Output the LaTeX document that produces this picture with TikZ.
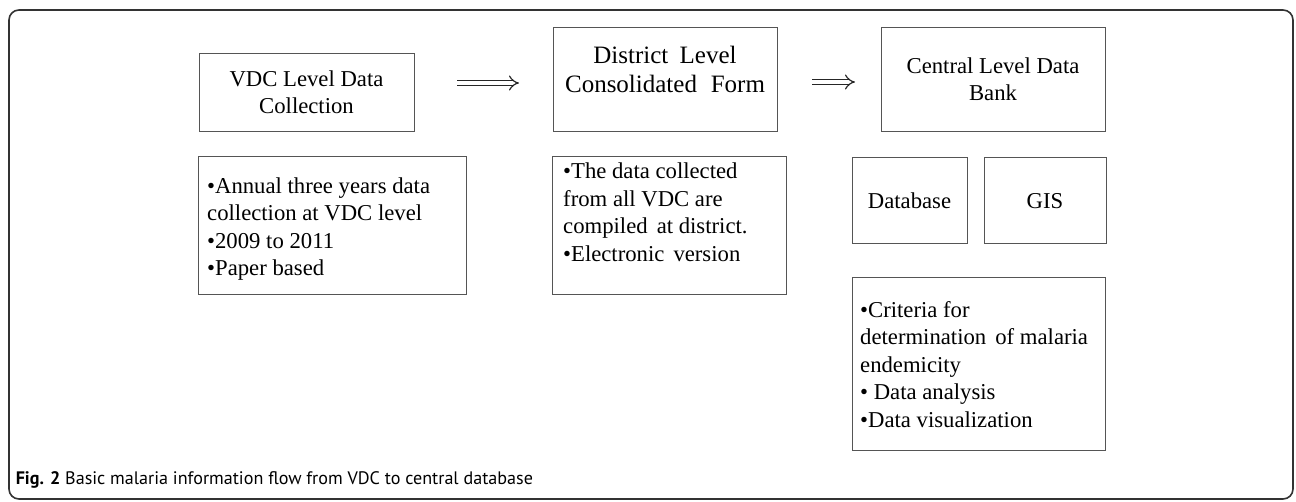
\documentclass[tikz,border=0pt]{standalone}
\usepackage{fontspec}
\setmainfont{Liberation Serif}
\newfontfamily\capfont{PT Sans}
\usetikzlibrary{arrows.meta}
\definecolor{boxgray}{HTML}{555555}
\definecolor{framegray}{HTML}{333333}
\newcommand{\fsa}{\fontsize{22.7}{27.5}\selectfont}
\newcommand{\fsb}{\fontsize{25}{28.5}\selectfont}
\newcommand{\fst}{\rule{0pt}{17pt}}
\tikzset{
  box/.style={draw=boxgray, line width=1.3pt, anchor=north west, inner sep=0pt, rectangle},
  txt/.style={font=\fsa, align=left, anchor=north west, inner sep=0pt, text=black},
  ctxt/.style={font=\fsa, align=center, anchor=north, inner sep=0pt, text=black},
  dblarrow/.style={double distance=4pt, line width=1.2pt, draw=black!85, -{Implies}},
  frame/.style={draw=framegray, line width=1.6pt, rounded corners=10pt}
}
\begin{document}
\begin{tikzpicture}[x=1pt,y=-1pt]
\useasboundingbox (0,0) rectangle (1296,501);
\draw[frame] (9,10) rectangle (1293,499);

% heading boxes
\node[box, minimum width=215pt, minimum height=78pt] (vdc) at (199,53) {};
\node[box, minimum width=224pt, minimum height=104pt] (dist) at (553,27) {};
\node[box, minimum width=224pt, minimum height=104pt] (cent) at (881,27) {};
\node[ctxt] (vdctxt) at (306.5,69) {\fst VDC Level Data\\Collection};
\node[ctxt, font=\fsb] (disttxt) at (665,46) {\fst District\hspace{0.2em} Level\\Consolidated\hspace{0.3em} Form};
\node[ctxt] (centtxt) at (993,56) {\fst Central Level Data\\Bank};

% arrows
\coordinate (a1s) at (457,83);
\coordinate (a1e) at (519,83);
\coordinate (a2s) at (812,82);
\coordinate (a2e) at (855,82);
\draw[dblarrow] (a1s) -- (a1e);
\draw[dblarrow] (a2s) -- (a2e);

% bullet boxes
\node[box, minimum width=268pt, minimum height=138pt] (vdcb) at (198,156) {};
\node[txt] (vdcbt) at (207,176) {\fst •Annual three years data\\collection at VDC level\\•2009 to 2011\\•Paper based};
\node[box, minimum width=234pt, minimum height=138pt] (distb) at (552,156) {};
\node[txt] (distbt) at (563,161.5) {\fst •The data collected\\from all VDC are\\compiled\hspace{0.15em} at district.\\•Electronic\hspace{0.15em} version};

% database / GIS
\node[box, minimum width=115pt, minimum height=86pt] (db) at (852,157) {};
\node[box, minimum width=122pt, minimum height=86pt] (gis) at (984,157) {};
\node[ctxt] (dbt) at (909.5,191) {\fst Database};
\node[ctxt] (gist) at (1045,191) {\fst GIS};

% criteria
\node[box, minimum width=253pt, minimum height=173pt] (crit) at (852,277) {};
\node[txt] (critt) at (860,300) {\fst •Criteria for\\determination\hspace{0.15em} of malaria\\endemicity\\• Data analysis\\•Data visualization};

% caption
\node[anchor=base west, inner sep=0pt, font=\capfont\fontsize{18.1}{21}\selectfont] (cap) at (15.6,484) {\textbf{Fig. 2} Basic malaria information flow from VDC to central database};
\end{tikzpicture}
\end{document}
